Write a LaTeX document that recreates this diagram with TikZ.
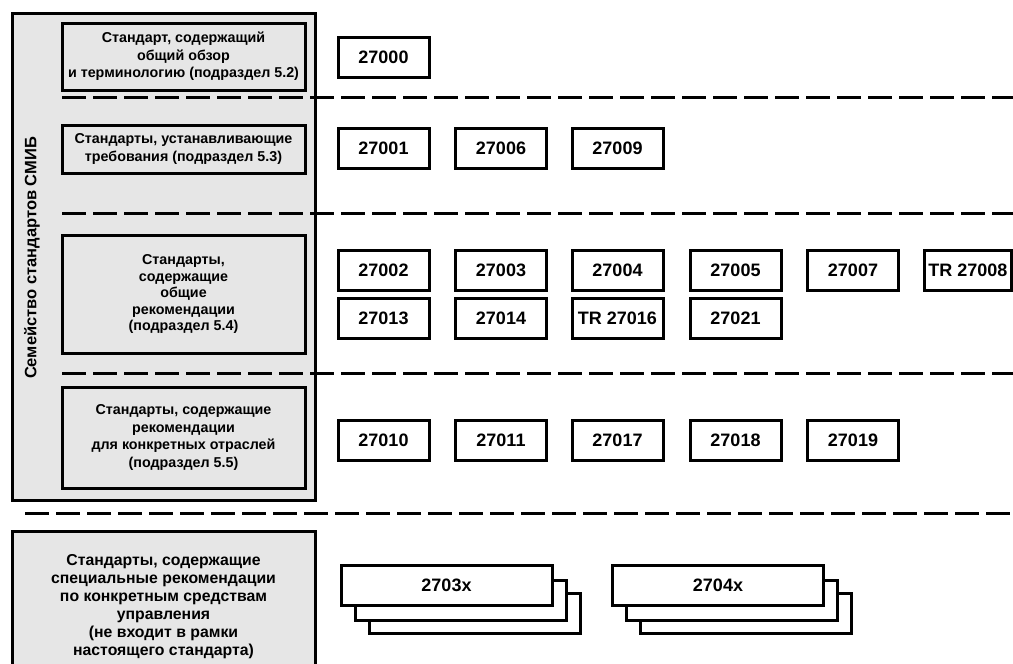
\documentclass[tikz,border=0pt]{standalone}
\usepackage{fontspec}
\setmainfont{Liberation Sans}
\definecolor{boxgray}{HTML}{E6E6E6}
\begin{document}
\begin{tikzpicture}[x=1pt,y=-1pt,
  graybox/.style={draw=black, fill=boxgray, line width=3pt, inner sep=0pt},
  catbox/.style={draw=black, fill=boxgray, line width=3pt, align=center, inner sep=0pt,
    font=\fontsize{14.3}{17.5}\selectfont\bfseries},
  numbox/.style={draw=black, fill=white, line width=3pt, minimum width=91pt, minimum height=40pt,
    inner sep=0pt, font=\fontsize{18}{21}\selectfont\bfseries,
    path picture={\fill (path picture bounding box.south west) rectangle ([yshift=2pt]path picture bounding box.south east);}},
  stackbox/.style={draw=black, fill=white, line width=3pt, minimum width=211pt, minimum height=40pt,
    inner sep=0pt, font=\fontsize{18}{21}\selectfont\bfseries},
  sepline/.style={line width=3pt, dash pattern=on 24pt off 7pt},
]
\useasboundingbox (0,0) rectangle (1013,664);

% family frame
\node[graybox, minimum width=303pt, minimum height=487pt] (family) at (163.5,256.5) {};
\node[rotate=90, font=\fontsize{16.5}{19}\selectfont\bfseries] (famlabel) at (32,258) {Семейство стандартов СМИБ};

% category boxes
\node[catbox, minimum width=243pt, minimum height=67pt] (cat1) at (183.5,56.5)
  {Стандарт, содержащий\\общий обзор\\и терминологию (подраздел 5.2)};
\node[catbox, minimum width=243pt, minimum height=48pt] (cat2) at (183.5,149)
  {Стандарты, устанавливающие\\требования (подраздел 5.3)};
\node[catbox, minimum width=243pt, minimum height=118pt,
  font=\fontsize{14.3}{16.5}\selectfont\bfseries] (cat3) at (183.5,294)
  {Стандарты,\\содержащие\\общие\\рекомендации\\(подраздел 5.4)};
\node[catbox, minimum width=243pt, minimum height=101pt] (cat4) at (183.5,437.5)
  {Стандарты, содержащие\\рекомендации\\для конкретных отраслей\\(подраздел 5.5)};
\node[catbox, minimum width=303pt, minimum height=152pt,
  font=\fontsize{15.8}{18}\selectfont\bfseries] (cat5) at (163.5,607)
  {Стандарты, содержащие\\специальные рекомендации\\по конкретным средствам\\управления\\(не входит в рамки\\настоящего стандарта)};

% separators
\draw[sepline] (62,97) -- (1013,97);
\draw[sepline] (62,213) -- (1013,213);
\draw[sepline] (62,373) -- (1013,373);
\draw[sepline] (25,513) -- (1013,513);

% number boxes
\node[numbox] (n27000) at (383.5,57) {27000};

\node[numbox] (n27001) at (383.5,148) {27001};
\node[numbox] (n27006) at (501,148) {27006};
\node[numbox] (n27009) at (617.5,148) {27009};

\node[numbox] (n27002) at (383.5,270) {27002};
\node[numbox] (n27003) at (501,270) {27003};
\node[numbox] (n27004) at (617.5,270) {27004};
\node[numbox] (n27005) at (735.5,270) {27005};
\node[numbox] (n27007) at (853,270) {27007};
\node[numbox, minimum width=87pt] (n27008) at (968,270) {TR 27008};

\node[numbox] (n27013) at (383.5,318) {27013};
\node[numbox] (n27014) at (501,318) {27014};
\node[numbox] (n27016) at (617.5,318) {TR 27016};
\node[numbox] (n27021) at (735.5,318) {27021};

\node[numbox] (n27010) at (383.5,440) {27010};
\node[numbox] (n27011) at (501,440) {27011};
\node[numbox] (n27017) at (617.5,440) {27017};
\node[numbox] (n27018) at (735.5,440) {27018};
\node[numbox] (n27019) at (853,440) {27019};

% stacked boxes
\node[stackbox] (s3c) at (474.5,613) {};
\node[stackbox] (s3b) at (460.5,600) {};
\node[stackbox] (s3a) at (446.5,585) {2703x};

\node[stackbox] (s4c) at (746,613) {};
\node[stackbox] (s4b) at (732,600) {};
\node[stackbox] (s4a) at (718,585) {2704x};
\end{tikzpicture}
\end{document}
